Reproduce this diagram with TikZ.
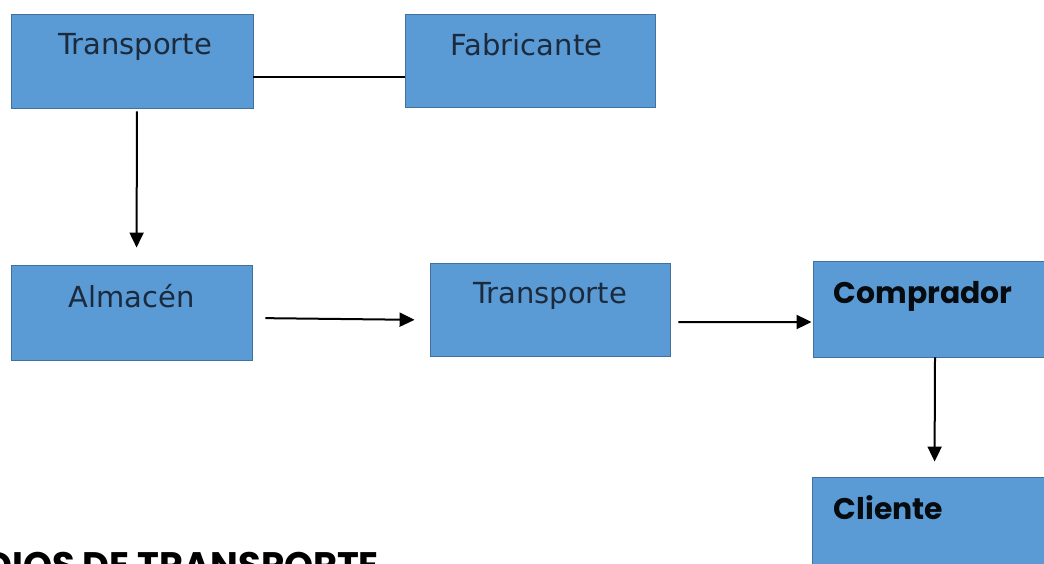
\documentclass[tikz,border=0pt]{standalone}
\usepackage{fontspec}
\usepackage{tikz, xcolor}
\usetikzlibrary{shapes,arrows.meta}
\setmainfont{DejaVu Sans}
\newfontfamily\geofont{Poppins}
\definecolor{boxfill}{HTML}{5B9BD5}
\definecolor{boxline}{HTML}{41719C}
\definecolor{boxtext}{HTML}{1B2A3C}

\begin{document}
\begin{tikzpicture}[thick]
\tikzstyle{vertexr}=[rectangle, draw=boxline, fill=boxfill, line width=0.5pt, inner sep=0pt]
\tikzstyle{labelr}=[anchor=base, inner sep=0pt, text=boxtext, font=\fontsize{16.5}{18}\selectfont]
\tikzstyle{labelg}=[anchor=base west, inner sep=0pt, text=black!90!boxline, font=\geofont\bfseries\fontsize{17}{19}\selectfont]
\tikzstyle{drawstyle}=[line width=0.04cm, -{Triangle[length=0.3cm, width=0.28cm]}]
\tikzstyle{plainstyle}=[line width=0.04cm]

\useasboundingbox (0,0) rectangle (20.88,-11.26);

\node[vertexr, minimum width=4.84cm, minimum height=1.88cm] (G0x0) at (2.64,-1.22) {};
\node[labelr] (G0x0t) at (2.7,-1.08) {Transporte};
\node[vertexr, minimum width=5.0cm, minimum height=1.86cm] (G1x0) at (10.6,-1.21) {};
\node[labelr] (G1x0t) at (10.53,-1.10) {Fabricante};
\draw[plainstyle] ([yshift=-0.32cm]G0x0.east) -- ([yshift=-0.33cm]G1x0.west);

\node[vertexr, minimum width=4.82cm, minimum height=1.90cm] (G0x1) at (2.63,-6.25) {};
\node[labelr] (G0x1t) at (2.63,-6.14) {Almacén};
\draw[drawstyle, shorten <=0.06cm, shorten >=0.34cm] ([xshift=0.1cm]G0x0.south) -- ([xshift=0.1cm]G0x1.north);

\node[vertexr, minimum width=4.8cm, minimum height=1.86cm] (G1x1) at (11.0,-6.19) {};
\node[labelr] (G1x1t) at (11.0,-6.06) {Transporte};
\draw[drawstyle, shorten <=0.26cm, shorten >=0.3cm] ([yshift=-0.11cm]G0x1.east) -- ([yshift=-0.21cm]G1x1.west);

\node[vertexr, minimum width=4.94cm, minimum height=1.92cm] (G2x1) at (18.73,-6.18) {};
\node[labelg] (G2x1t) at (16.66,-6.06) {Comprador};
\draw[drawstyle, shorten <=0.16cm, shorten >=0.02cm] ([yshift=-0.25cm]G1x1.east) -- ([yshift=-0.26cm]G2x1.west);

\node[vertexr, minimum width=4.96cm, minimum height=2.06cm] (G2x2) at (18.72,-10.57) {};
\node[labelg] (G2x2t) at (16.66,-10.38) {Cliente};
\draw[drawstyle, shorten >=0.3cm] ([xshift=-0.03cm]G2x1.south) -- ([xshift=-0.03cm]G2x2.north);

\node[anchor=north west, inner sep=0pt, font=\geofont\bfseries\fontsize{21}{23}\selectfont] (G0x3) at (-0.3,-11.04) {DIOS DE TRANSPORTE};
\end{tikzpicture}
\end{document}
